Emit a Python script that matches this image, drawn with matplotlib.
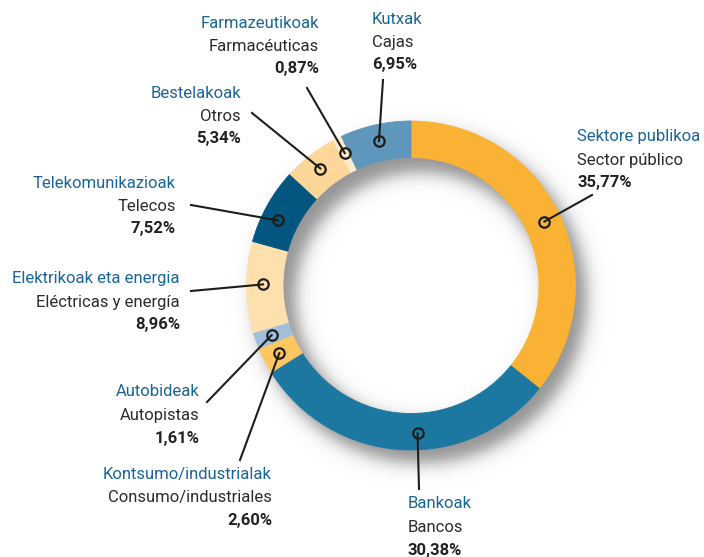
import matplotlib
matplotlib.use("Agg")
import matplotlib.pyplot as plt
import numpy as np

plt.rcParams['font.family'] = ['Roboto', 'DejaVu Sans']

# data, clockwise from 12 o'clock
names_eu = ['Sektore publikoa', 'Bankoak', 'Kontsumo/industrialak', 'Autobideak',
            'Elektrikoak eta energia', 'Telekomunikazioak', 'Bestelakoak',
            'Farmazeutikoak', 'Kutxak']
names_es = ['Sector público', 'Bancos', 'Consumo/industriales', 'Autopistas',
            'Eléctricas y energía', 'Telecos', 'Otros', 'Farmacéuticas', 'Cajas']
shares = [35.77, 30.38, 2.60, 1.61, 8.96, 7.52, 5.34, 0.87, 6.95]
colors = ['#F9B233', '#1C78A1', '#FDC660', '#9FC0D8', '#FEDFAE',
          '#02567F', '#FDD699', '#FDEBCB', '#5F97BC']

W, H = 704, 557
cx, cy = 411, 285.5          # ring centre in pixels (y down)
r_out, r_in = 164.5, 128
r_dot = 148

# label layout: (x, y of first line, alignment, leader start, angle nudge)
layout = {
    'Sector público':        (577, 137, 'left',  (592, 195), 0),
    'Bancos':                (408, 504, 'left',  (419, 489), -6),
    'Consumo/industriales':  (272, 474, 'right', (240, 460), 0),
    'Autopistas':            (200, 392, 'right', (207, 402), 0),
    'Eléctricas y energía':  (180, 279, 'right', (191, 291), 1),
    'Telecos':               (176, 183, 'right', (191, 205), -3),
    'Otros':                 (241, 93,  'right', (252, 113), 0),
    'Farmacéuticas':         (319, 23,  'right', (307, 88),  0),
    'Cajas':                 (372, 19,  'left',  (383, 80),  0),
}

fig = plt.figure(figsize=(W / 100, H / 100), dpi=100)
ax = fig.add_axes([0, 0, 1, 1])

def fy(y):
    return H - y

# soft drop shadow of the ring, offset down-right
xx, yy = np.meshgrid(np.arange(W) + 0.5, np.arange(H) + 0.5)
d = np.hypot(xx - (cx + 10), yy - (cy + 12))
s = 5.0
a = 1 / (1 + np.exp(-(r_out + 1 - d) / s)) * 1 / (1 + np.exp(-(d - r_in + 3) / s))
shadow = np.zeros((H, W, 4))
shadow[..., :3] = 0.55
shadow[..., 3] = 0.95 * a
ax.imshow(shadow, extent=(0, W, 0, H), origin='upper', zorder=1, interpolation='bilinear')

wedges, _ = ax.pie(shares, colors=colors, startangle=90, counterclock=False,
                   radius=r_out, center=(cx, fy(cy)), frame=True,
                   wedgeprops=dict(width=r_out - r_in, linewidth=0.6))
for w, c in zip(wedges, colors):
    w.set_edgecolor(c)
    w.set_zorder(2)

# labels, leaders and markers
start = 0.0
for eu, es, v in zip(names_eu, names_es, shares):
    tx, ty, ha, lead, nudge = layout[es]
    th = np.radians(start + v * 3.6 / 2 + nudge)
    start += v * 3.6
    mx = cx + r_dot * np.sin(th)
    my = cy - r_dot * np.cos(th)
    ax.plot([lead[0], mx], [fy(lead[1]), fy(my)], color='#1d1d1b', lw=1.5, zorder=3)
    ax.plot(mx, fy(my), 'o', ms=7.5, mfc='none', mec='#1d1d1b', mew=1.6, zorder=4)
    ax.text(tx, fy(ty), eu, ha=ha, va='center', fontsize=12, color='#1B6595')
    ax.text(tx, fy(ty + 23.5), es, ha=ha, va='center', fontsize=12, color='#2b2b2b')
    pct = '{:.2f}%'.format(v).replace('.', ',')
    ax.text(tx, fy(ty + 46), pct, ha=ha, va='center', fontsize=12,
            fontweight='bold', color='#222222')

ax.set_xlim(0, W)
ax.set_ylim(0, H)
ax.set_aspect('auto')
ax.axis('off')

fig.savefig('out.png', dpi=100, facecolor='white')
